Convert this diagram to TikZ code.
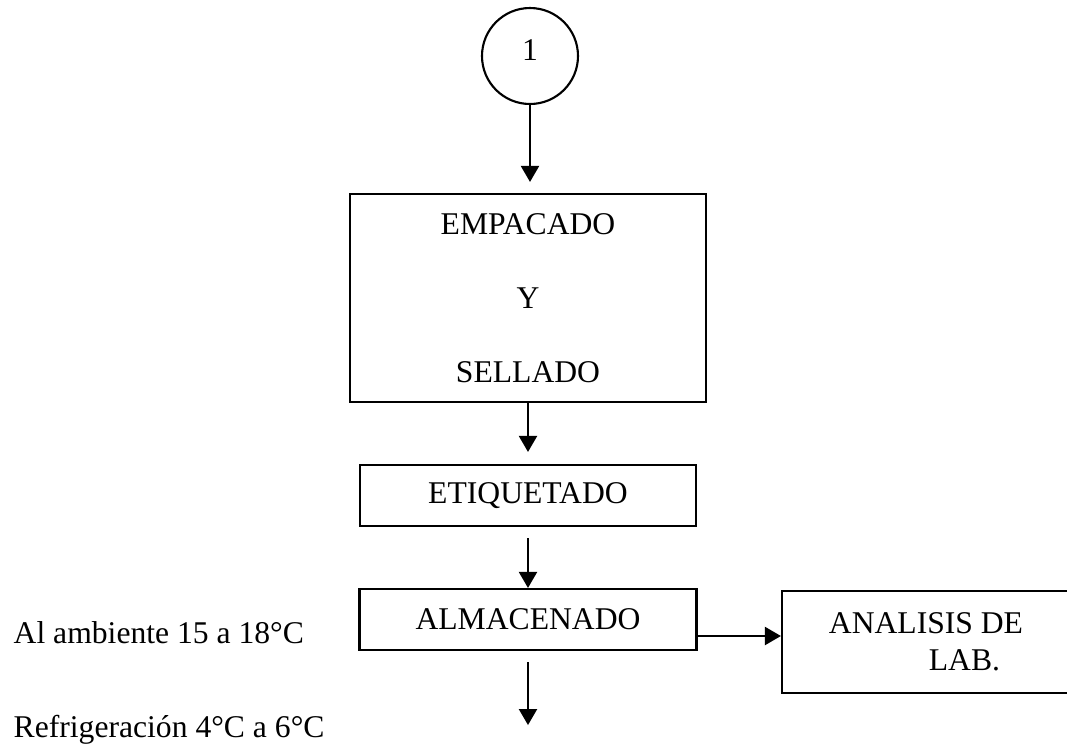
\documentclass[tikz,border=0pt]{standalone}
\usepackage{fontspec}
\setmainfont{Liberation Serif}
\usetikzlibrary{arrows.meta,calc}

\begin{document}
\begin{tikzpicture}[font=\fontsize{9}{10.5}\selectfont]
        \useasboundingbox (0,0) rectangle (10.67,-7.47);

        \begin{scope}[every node/.style={rectangle,draw=black,line width=0.6pt,inner sep=0pt}]
            \node[circle,minimum size=0.96cm,text depth=0.12cm] (c1) at (5.30,-0.56) {1};
            \node[minimum width=3.56cm,minimum height=2.08cm,align=center,
                  font=\fontsize{9}{21}\selectfont] (emp) at (5.28,-2.98) {EMPACADO\\Y\\SELLADO};
            \node[minimum width=3.36cm,minimum height=0.61cm] (etq) at (5.28,-4.955) {ETIQUETADO};
            \node[minimum width=3.37cm,minimum height=0.61cm] (alm) at (5.28,-6.195) {ALMACENADO};
            \node[minimum width=2.88cm,minimum height=1.02cm,align=left] (lab) at (9.26,-6.42) {ANALISIS DE\\\hspace*{1cm}LAB.};
        \end{scope}

        \node[anchor=base west,inner sep=0pt] (amb) at (0.13,-6.43) {Al ambiente 15 a 18°C};
        \node[anchor=base west,inner sep=0pt] (ref) at (0.13,-7.37) {Refrigeración 4°C a 6°C};

        \coordinate (out) at ($(alm.south)+(0,-0.74)$);
        \coordinate (a) at ($(alm.east)+(0,-0.165)$);

        \begin{scope}[>={Triangle[length=0.16cm,width=0.18cm]},
                    every edge/.style={draw=black,line width=0.6pt}]
            \path [->,shorten >=0.11cm] (c1) edge (c1 |- emp.north);
            \path [->,shorten >=0.12cm] (emp) edge (emp |- etq.north);
            \path [->,shorten <=0.11cm] (etq) edge (alm);
            \path [->,shorten <=0.11cm] (alm) edge (out);
            \path [->] (a) edge (a -| lab.west);
        \end{scope}
    \end{tikzpicture}
\end{document}
